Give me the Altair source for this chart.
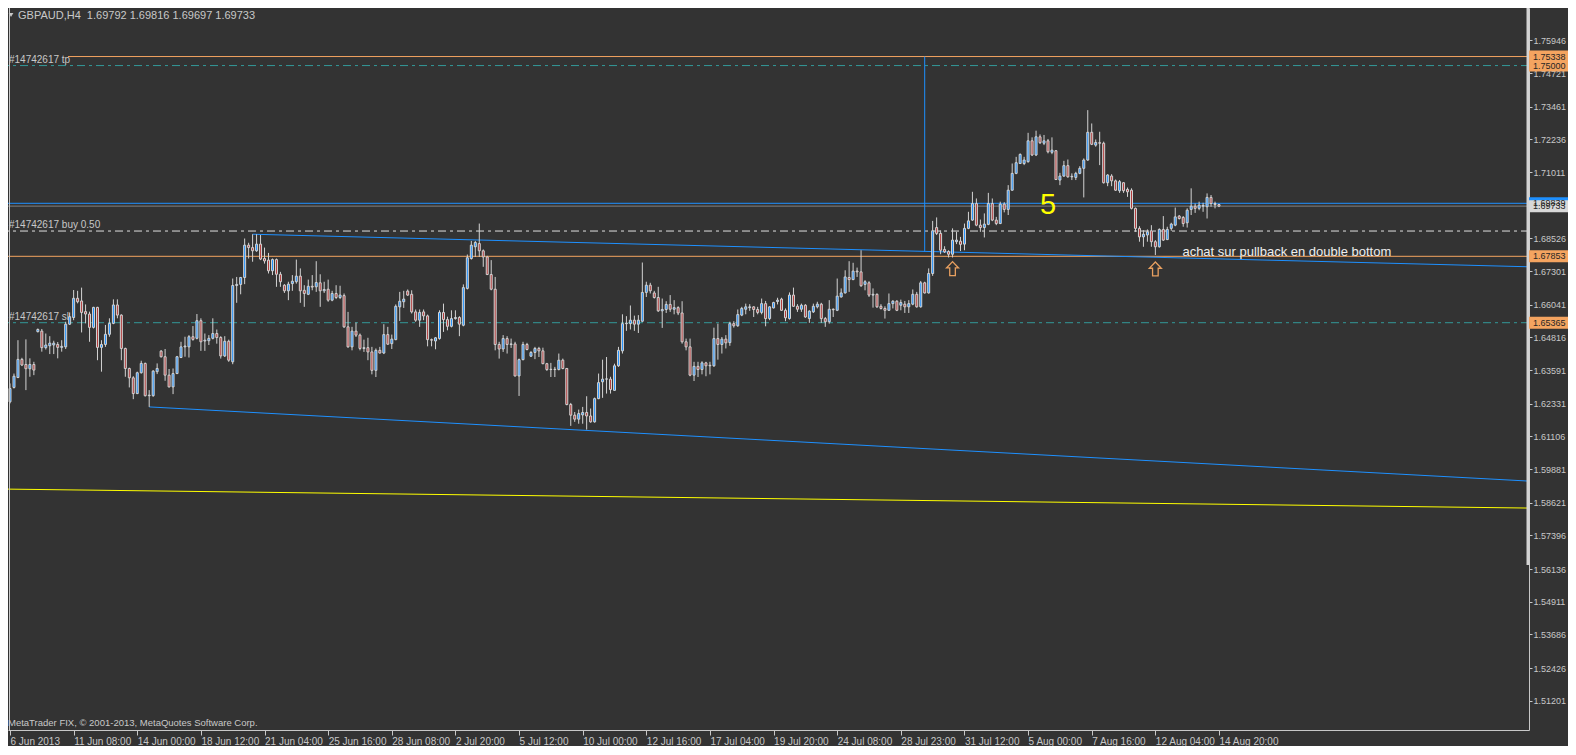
import altair as alt
import pandas as pd

# ---------------- data (GBPAUD H4) ----------------
opens = [
    1.6240,1.6294,1.6331,1.6399,1.6380,1.6364,1.6380,1.6503,1.6505,1.6443,
    1.6450,1.6453,1.6455,1.6444,1.6446,1.6531,1.6556,1.6628,1.6618,1.6578,
    1.6569,1.6519,1.6594,1.6444,1.6455,1.6493,1.6534,1.6603,1.6565,1.6440,
    1.6365,1.6330,1.6271,1.6349,1.6384,1.6263,1.6263,1.6353,1.6430,1.6409,
    1.6340,1.6296,1.6346,1.6406,1.6446,1.6446,1.6484,1.6478,1.6544,1.6468,
    1.6469,1.6478,1.6496,1.6481,1.6412,1.6467,1.6390,1.6676,1.6680,1.6706,
    1.6827,1.6818,1.6806,1.6831,1.6777,1.6771,1.6731,1.6773,1.6718,1.6677,
    1.6656,1.6683,1.6690,1.6711,1.6658,1.6643,1.6673,1.6671,1.6686,1.6656,
    1.6662,1.6621,1.6646,1.6631,1.6638,1.6521,1.6446,1.6505,1.6490,1.6440,
    1.6443,1.6427,1.6358,1.6433,1.6423,1.6492,1.6458,1.6473,1.6596,1.6615,
    1.6655,1.6643,1.6577,1.6546,1.6577,1.6562,1.6473,1.6468,1.6477,1.6575,
    1.6548,1.6523,1.6552,1.6556,1.6527,1.6665,1.6777,1.6821,1.6833,1.6806,
    1.6783,1.6717,1.6662,1.6455,1.6438,1.6477,1.6455,1.6457,1.6337,1.6398,
    1.6455,1.6411,1.6425,1.6440,1.6431,1.6383,1.6361,1.6362,1.6361,1.6396,
    1.6365,1.6230,1.6190,1.6175,1.6191,1.6200,1.6187,1.6165,1.6252,1.6315,
    1.6325,1.6325,1.6283,1.6375,1.6431,1.6533,1.6533,1.6546,1.6531,1.6542,
    1.6650,1.6677,1.6648,1.6631,1.6581,1.6586,1.6605,1.6587,1.6593,1.6573,
    1.6465,1.6446,1.6340,1.6373,1.6361,1.6386,1.6375,1.6375,1.6477,1.6455,
    1.6475,1.6462,1.6533,1.6525,1.6565,1.6587,1.6593,1.6596,1.6586,1.6575,
    1.6608,1.6552,1.6592,1.6616,1.6625,1.6583,1.6552,1.6640,1.6598,1.6587,
    1.6602,1.6552,1.6577,1.6596,1.6606,1.6552,1.6540,1.6587,1.6583,1.6633,
    1.6648,1.6706,1.6698,1.6730,1.6727,1.6680,1.6686,1.6640,1.6643,1.6598,
    1.6590,1.6583,1.6608,1.6617,1.6602,1.6606,1.6596,1.6606,1.6643,1.6596,
    1.6686,1.6648,1.6721,1.6893,1.6871,1.6811,1.6803,1.6793,1.6840,1.6842,
    1.6831,1.6890,1.6921,1.6983,1.6902,1.6893,1.6905,1.6983,1.6921,1.6908,
    1.6981,1.6961,1.7033,1.7096,1.7133,1.7133,1.7140,1.7218,1.7165,1.7233,
    1.7209,1.7218,1.7175,1.7181,1.7071,1.7086,1.7125,1.7083,1.7081,1.7096,
    1.7115,1.7146,1.7250,1.7202,1.7211,1.7209,1.7061,1.7086,1.7068,1.7031,
    1.7061,1.7036,1.7033,1.6965,1.6890,1.6858,1.6865,1.6881,1.6840,1.6821,
    1.6886,1.6848,1.6890,1.6902,1.6936,1.6931,1.6911,1.6961,1.6973,1.6965,
    1.6973,1.6971,1.7006,1.6983,1.69792,
]
highs = [
    1.6309,1.6346,1.6471,1.6405,1.6474,1.6403,1.6390,1.6515,1.6513,1.6496,
    1.6486,1.6469,1.6464,1.6471,1.6540,1.6575,1.6659,1.6656,1.6668,1.6605,
    1.6578,1.6596,1.6596,1.6471,1.6528,1.6553,1.6624,1.6624,1.6568,1.6443,
    1.6368,1.6336,1.6353,1.6394,1.6387,1.6284,1.6359,1.6384,1.6434,1.6438,
    1.6363,1.6365,1.6412,1.6465,1.6484,1.6490,1.6524,1.6569,1.6553,1.6496,
    1.6490,1.6553,1.6511,1.6486,1.6486,1.6473,1.6702,1.6708,1.6708,1.6852,
    1.6836,1.6868,1.6868,1.6865,1.6818,1.6798,1.6777,1.6777,1.6727,1.6681,
    1.6690,1.6715,1.6773,1.6740,1.6677,1.6698,1.6715,1.6767,1.6718,1.6690,
    1.6698,1.6656,1.6677,1.6675,1.6646,1.6577,1.6521,1.6537,1.6496,1.6473,
    1.6480,1.6446,1.6440,1.6446,1.6531,1.6521,1.6492,1.6605,1.6652,1.6656,
    1.6661,1.6658,1.6586,1.6586,1.6586,1.6567,1.6477,1.6483,1.6583,1.6608,
    1.6559,1.6583,1.6583,1.6561,1.6680,1.6792,1.6843,1.6843,1.6908,1.6811,
    1.6787,1.6771,1.6708,1.6465,1.6490,1.6486,1.6477,1.6465,1.6402,1.6465,
    1.6461,1.6430,1.6446,1.6446,1.6443,1.6386,1.6386,1.6371,1.6421,1.6402,
    1.6367,1.6236,1.6202,1.6211,1.6221,1.6261,1.6215,1.6256,1.6346,1.6398,
    1.6408,1.6334,1.6383,1.6446,1.6568,1.6561,1.6601,1.6563,1.6565,1.6762,
    1.6690,1.6686,1.6656,1.6671,1.6627,1.6617,1.6640,1.6621,1.6598,1.6617,
    1.6477,1.6477,1.6390,1.6390,1.6392,1.6390,1.6390,1.6518,1.6533,1.6483,
    1.6490,1.6540,1.6542,1.6586,1.6596,1.6608,1.6606,1.6598,1.6596,1.6627,
    1.6618,1.6598,1.6615,1.6630,1.6630,1.6590,1.6650,1.6668,1.6606,1.6608,
    1.6606,1.6583,1.6608,1.6615,1.6611,1.6558,1.6621,1.6590,1.6702,1.6665,
    1.6733,1.6767,1.6761,1.6743,1.6808,1.6696,1.6692,1.6665,1.6646,1.6606,
    1.6598,1.6646,1.6621,1.6621,1.6623,1.6618,1.6621,1.6661,1.6652,1.6693,
    1.6690,1.6740,1.6918,1.6931,1.6883,1.6823,1.6808,1.6890,1.6877,1.6858,
    1.6908,1.6952,1.7027,1.7002,1.6923,1.6946,1.7023,1.7002,1.6933,1.6990,
    1.6988,1.7052,1.7133,1.7158,1.7171,1.7158,1.7248,1.7231,1.7256,1.7242,
    1.7240,1.7225,1.7231,1.7183,1.7098,1.7143,1.7148,1.7096,1.7102,1.7123,
    1.7152,1.7333,1.7283,1.7223,1.7252,1.7215,1.7093,1.7093,1.7073,1.7071,
    1.7063,1.7043,1.7040,1.6968,1.6898,1.6883,1.6886,1.6902,1.6846,1.6890,
    1.6936,1.6896,1.6911,1.6968,1.6940,1.6936,1.6965,1.7040,1.6983,1.6990,
    1.6986,1.7021,1.7015,1.6990,1.69816,
]
lows = [
    1.6234,1.6290,1.6329,1.6374,1.6284,1.6334,1.6340,1.6500,1.6428,1.6436,
    1.6419,1.6419,1.6403,1.6428,1.6438,1.6528,1.6546,1.6609,1.6500,1.6534,
    1.6465,1.6515,1.6396,1.6353,1.6446,1.6484,1.6531,1.6553,1.6396,1.6334,
    1.6294,1.6250,1.6269,1.6346,1.6260,1.6221,1.6259,1.6344,1.6406,1.6319,
    1.6294,1.6269,1.6344,1.6404,1.6409,1.6406,1.6469,1.6474,1.6431,1.6431,
    1.6453,1.6474,1.6458,1.6402,1.6408,1.6390,1.6381,1.6611,1.6643,1.6681,
    1.6777,1.6765,1.6802,1.6771,1.6758,1.6721,1.6715,1.6671,1.6671,1.6648,
    1.6621,1.6656,1.6683,1.6611,1.6596,1.6640,1.6658,1.6652,1.6596,1.6648,
    1.6615,1.6617,1.6625,1.6625,1.6517,1.6443,1.6433,1.6483,1.6433,1.6427,
    1.6396,1.6343,1.6333,1.6421,1.6419,1.6454,1.6438,1.6471,1.6543,1.6592,
    1.6637,1.6571,1.6540,1.6521,1.6546,1.6448,1.6448,1.6437,1.6473,1.6502,
    1.6508,1.6519,1.6548,1.6486,1.6523,1.6661,1.6773,1.6783,1.6783,1.6746,
    1.6715,1.6658,1.6433,1.6402,1.6427,1.6421,1.6442,1.6335,1.6262,1.6396,
    1.6433,1.6408,1.6400,1.6408,1.6381,1.6356,1.6333,1.6333,1.6358,1.6362,
    1.6227,1.6150,1.6165,1.6158,1.6158,1.6136,1.6162,1.6162,1.6250,1.6255,
    1.6271,1.6271,1.6281,1.6371,1.6421,1.6506,1.6511,1.6506,1.6498,1.6540,
    1.6633,1.6646,1.6627,1.6577,1.6517,1.6573,1.6577,1.6568,1.6565,1.6458,
    1.6433,1.6336,1.6318,1.6333,1.6343,1.6336,1.6343,1.6371,1.6398,1.6421,
    1.6440,1.6450,1.6518,1.6521,1.6561,1.6568,1.6581,1.6558,1.6568,1.6568,
    1.6523,1.6546,1.6590,1.6605,1.6581,1.6542,1.6548,1.6596,1.6577,1.6577,
    1.6555,1.6536,1.6573,1.6590,1.6536,1.6521,1.6533,1.6558,1.6580,1.6631,
    1.6646,1.6652,1.6696,1.6708,1.6671,1.6658,1.6633,1.6593,1.6592,1.6586,
    1.6552,1.6581,1.6590,1.6580,1.6583,1.6573,1.6573,1.6602,1.6593,1.6593,
    1.6646,1.6646,1.6712,1.6865,1.6793,1.6798,1.6781,1.6781,1.6831,1.6805,
    1.6808,1.6887,1.6918,1.6898,1.6877,1.6856,1.6902,1.6917,1.6902,1.6906,
    1.6950,1.6940,1.7031,1.7093,1.7131,1.7127,1.7136,1.7161,1.7161,1.7206,
    1.7202,1.7171,1.7168,1.7071,1.7052,1.7083,1.7080,1.7071,1.7071,1.7093,
    1.7006,1.7143,1.7202,1.7196,1.7127,1.7058,1.7048,1.7048,1.7030,1.7023,
    1.7023,1.7008,1.6961,1.6877,1.6840,1.6821,1.6840,1.6821,1.6790,1.6818,
    1.6843,1.6846,1.6881,1.6898,1.6923,1.6896,1.6893,1.6940,1.6948,1.6958,
    1.6952,1.6927,1.6971,1.6965,1.69697,
]
closes = [
    1.6290,1.6336,1.6399,1.6378,1.6364,1.6380,1.6359,1.6511,1.6443,1.6453,
    1.6460,1.6460,1.6444,1.6448,1.6531,1.6559,1.6628,1.6615,1.6575,1.6569,
    1.6519,1.6594,1.6444,1.6455,1.6493,1.6534,1.6603,1.6565,1.6440,1.6365,
    1.6330,1.6271,1.6349,1.6384,1.6263,1.6265,1.6355,1.6365,1.6409,1.6340,
    1.6296,1.6346,1.6409,1.6446,1.6449,1.6484,1.6474,1.6544,1.6465,1.6471,
    1.6478,1.6496,1.6481,1.6412,1.6467,1.6396,1.6676,1.6680,1.6706,1.6827,
    1.6818,1.6806,1.6831,1.6775,1.6768,1.6731,1.6773,1.6718,1.6690,1.6656,
    1.6681,1.6692,1.6711,1.6656,1.6646,1.6673,1.6670,1.6687,1.6656,1.6661,
    1.6621,1.6646,1.6631,1.6640,1.6521,1.6446,1.6505,1.6490,1.6440,1.6443,
    1.6427,1.6358,1.6433,1.6423,1.6492,1.6456,1.6475,1.6598,1.6617,1.6625,
    1.6640,1.6577,1.6546,1.6575,1.6562,1.6473,1.6471,1.6480,1.6575,1.6548,
    1.6523,1.6552,1.6556,1.6531,1.6668,1.6780,1.6827,1.6837,1.6806,1.6783,
    1.6717,1.6662,1.6455,1.6438,1.6477,1.6455,1.6457,1.6337,1.6398,1.6455,
    1.6436,1.6425,1.6440,1.6431,1.6383,1.6361,1.6362,1.6361,1.6396,1.6365,
    1.6230,1.6190,1.6175,1.6196,1.6200,1.6187,1.6165,1.6252,1.6312,1.6325,
    1.6326,1.6286,1.6375,1.6433,1.6533,1.6535,1.6546,1.6531,1.6546,1.6650,
    1.6677,1.6656,1.6631,1.6581,1.6586,1.6605,1.6587,1.6593,1.6573,1.6465,
    1.6446,1.6340,1.6373,1.6361,1.6386,1.6375,1.6377,1.6477,1.6455,1.6475,
    1.6461,1.6533,1.6525,1.6567,1.6590,1.6596,1.6596,1.6586,1.6575,1.6608,
    1.6552,1.6596,1.6612,1.6621,1.6583,1.6555,1.6640,1.6598,1.6587,1.6602,
    1.6558,1.6580,1.6598,1.6606,1.6552,1.6540,1.6587,1.6585,1.6636,1.6648,
    1.6708,1.6698,1.6730,1.6727,1.6675,1.6690,1.6640,1.6643,1.6596,1.6590,
    1.6583,1.6608,1.6617,1.6583,1.6612,1.6596,1.6608,1.6643,1.6596,1.6686,
    1.6648,1.6721,1.6881,1.6871,1.6808,1.6802,1.6793,1.6846,1.6846,1.6830,
    1.6890,1.6918,1.6983,1.6902,1.6893,1.6906,1.6983,1.6921,1.6908,1.6981,
    1.6961,1.7033,1.7096,1.7136,1.7167,1.7146,1.7218,1.7165,1.7233,1.7211,
    1.7218,1.7177,1.7183,1.7073,1.7086,1.7125,1.7083,1.7085,1.7096,1.7115,
    1.7146,1.7250,1.7205,1.7212,1.7209,1.7061,1.7090,1.7068,1.7033,1.7065,
    1.7031,1.7027,1.6965,1.6890,1.6858,1.6868,1.6877,1.6840,1.6821,1.6886,
    1.6846,1.6886,1.6906,1.6933,1.6927,1.6908,1.6958,1.6973,1.6965,1.6977,
    1.6976,1.7006,1.6983,1.6979,1.69733,
]

time_label_bars = [0, 16, 32, 48, 64, 80, 96, 112, 128, 144,
                   160, 176, 192, 208, 224, 240, 256, 272, 288, 304]
time_labels = ["6 Jun 2013", "11 Jun 08:00", "14 Jun 00:00", "18 Jun 12:00",
               "21 Jun 04:00", "25 Jun 16:00", "28 Jun 08:00", "2 Jul 20:00",
               "5 Jul 12:00", "10 Jul 00:00", "12 Jul 16:00", "17 Jul 04:00",
               "19 Jul 20:00", "24 Jul 08:00", "28 Jul 23:00", "31 Jul 12:00",
               "5 Aug 00:00", "7 Aug 16:00", "12 Aug 04:00", "14 Aug 20:00"]
price_ticks = [1.77206, 1.75946, 1.74721, 1.73461, 1.72236, 1.71011, 1.68526,
               1.67301, 1.66041, 1.64816, 1.63591, 1.62331, 1.61106, 1.59881,
               1.58621, 1.57396, 1.56136, 1.54911, 1.53686, 1.52426, 1.51201,
               1.49976]

# price levels / objects
tp_user_line = 1.75338
tp_level = 1.75000
blue_level = 1.69839
bid_level = 1.69733
buy_level = 1.68800
orange_level = 1.67853
sl_level = 1.65365

upper_tl_bars = [61, 381.95]
upper_tl_prices = [1.6868, 1.6746]
lower_tl_bars = [35, 381.95]
lower_tl_prices = [1.6221, 1.5943]
yellow_bars = [-0.5, 381.95]
yellow_prices = [1.5913, 1.5842]
vline_bar = 230
vline_prices = [1.75338, 1.6803]
arrow_bars = [237, 288]
arrow_prices = [1.6739, 1.6738]

axis_tags_price = [1.75338, 1.75000, 1.69839, 1.69733, 1.67853, 1.65365]
axis_tags_text = ["1.75338", "1.75000", "1.69839", "1.69733", "1.67853", "1.65365"]
axis_tags_bg = ["#F4A460", "#F4A460", "#1E90FF", "#D8D8D8", "#F4A460", "#F4A460"]

# ---------------- styling ----------------
W, H = 1521, 722
X_DOMAIN = [-0.503, 381.95]
Y_DOMAIN = [1.50104, 1.77157]
BG = "#333333"
FG = "#C8C8C8"
BULL = "#1E90FF"
BEAR = "#B23A3A"
OUTLINE = "#D3D3D3"
ORANGE = "#F4A460"
TEAL = "#339999"
BLUE = "#1E90FF"
FONT = "Liberation Sans"
DASHDOT = [8, 4, 3, 4]

xs = alt.Scale(domain=X_DOMAIN, nice=False, zero=False, padding=0)
ys = alt.Scale(domain=Y_DOMAIN, nice=False, zero=False, padding=0)

label_array = "[" + ",".join("'" + t + "'" for t in time_labels) + "]"
bar_array = "[" + ",".join(str(b) for b in time_label_bars) + "]"
x_axis = alt.Axis(values=time_label_bars, labelExpr=f"{label_array}[indexof({bar_array}, datum.value)]",
                  orient="bottom", grid=False, title=None, domainColor=FG, tickColor=FG,
                  labelColor=FG, tickSize=5, labelAlign="left", labelBaseline="top",
                  labelPadding=1, labelFont=FONT, labelFontSize=10, labelOverlap=False,
                  labelFlush=False)
y_axis = alt.Axis(values=price_ticks, format=".5f", orient="right", grid=False, title=None,
                  domainColor=FG, tickColor=FG, labelColor=FG, tickSize=3, labelPadding=1,
                  labelAlign="left", labelFont=FONT, labelFontSize=9, labelOverlap=False,
                  labelFlush=False)


def XQ(field):
    return alt.X(f"{field}:Q", scale=xs, axis=x_axis)


def YQ(field):
    return alt.Y(f"{field}:Q", scale=ys, axis=y_axis)


bars = pd.DataFrame({"bar": list(range(len(opens))), "open": opens,
                     "high": highs, "low": lows, "close": closes})

# horizontal lines
solid_df = pd.DataFrame({"price": [blue_level, bid_level, orange_level],
                         "col": [BLUE, "#808080", ORANGE]})
solid_lines = alt.Chart(solid_df).mark_rule(strokeWidth=1).encode(
    y=YQ("price"), color=alt.Color("col:N", scale=None))

tp_df = pd.DataFrame({"price": [tp_user_line]})
tp_line = alt.Chart(tp_df).mark_rule(strokeWidth=1, color=ORANGE).encode(
    y=YQ("price"), x=alt.value(60), x2=alt.value(W))

teal_df = pd.DataFrame({"price": [tp_level, sl_level]})
teal_lines = alt.Chart(teal_df).mark_rule(strokeWidth=1, color=TEAL, strokeDash=DASHDOT).encode(
    y=YQ("price"))

buy_df = pd.DataFrame({"price": [buy_level]})
buy_line = alt.Chart(buy_df).mark_rule(strokeWidth=1, color="#E0E0E0", strokeDash=DASHDOT).encode(
    y=YQ("price"))

# trend lines
tl_df = pd.DataFrame({
    "bar": upper_tl_bars + lower_tl_bars + yellow_bars,
    "price": upper_tl_prices + lower_tl_prices + yellow_prices,
    "line": ["up", "up", "low", "low", "yel", "yel"],
    "col": [BLUE, BLUE, BLUE, BLUE, "#FFFF00", "#FFFF00"],
})
trendlines = alt.Chart(tl_df).mark_line(strokeWidth=1).encode(
    x=XQ("bar"), y=YQ("price"), detail="line:N", color=alt.Color("col:N", scale=None))

vdf = pd.DataFrame({"bar": [vline_bar], "p1": [vline_prices[0]], "p2": [vline_prices[1]]})
vline = alt.Chart(vdf).mark_rule(strokeWidth=1, color=BLUE).encode(
    x=XQ("bar"), y=YQ("p1"), y2="p2:Q")

# candles
wicks = alt.Chart(bars).mark_rule(color=OUTLINE, strokeWidth=1).encode(
    x=XQ("bar"), y=YQ("low"), y2="high:Q")
bodies = alt.Chart(bars).mark_bar(size=2, stroke=OUTLINE, strokeWidth=1).encode(
    x=XQ("bar"), y=YQ("open"), y2="close:Q",
    color=alt.condition("datum.close >= datum.open", alt.value(BULL), alt.value(BEAR)))

# left frame and thick price-scale segment
frame = alt.Chart(pd.DataFrame({"a": [0]})).mark_rule(color=FG, strokeWidth=1).encode(
    x=alt.value(1.5), y=alt.value(0), y2=alt.value(H))
thick_df = pd.DataFrame({"p1": [Y_DOMAIN[1]], "p2": [1.5629]})
thick = alt.Chart(thick_df).mark_rule(color="#D3D3D3", strokeWidth=3).encode(
    x=alt.value(W - 1), y=YQ("p1"), y2="p2:Q")

# order labels
order_df = pd.DataFrame({"price": [tp_level, buy_level, sl_level],
                         "txt": ["#14742617 tp", "#14742617 buy 0.50", "#14742617 sl"]})
order_text = alt.Chart(order_df).mark_text(align="left", baseline="bottom", dy=-1, font=FONT,
                                           fontSize=10, color=FG).encode(
    x=alt.value(1), y=YQ("price"), text="txt:N")

# annotations
five = alt.Chart(pd.DataFrame({"bar": [261], "price": [1.69776], "t": ["5"]})).mark_text(
    font=FONT, fontSize=29, color="#FFFF00", align="center", baseline="middle").encode(
    x=XQ("bar"), y=YQ("price"), text="t:N")
note = alt.Chart(pd.DataFrame({"bar": [294.8], "price": [1.6803],
                               "t": ["achat sur pullback en double bottom"]})).mark_text(
    font=FONT, fontSize=13, color="#EEEEEE", align="left", baseline="middle").encode(
    x=XQ("bar"), y=YQ("price"), text="t:N")
arrow_path = "M0,-1L0.86,-0.1L0.4,-0.1L0.4,1L-0.4,1L-0.4,-0.1L-0.86,-0.1Z"
arrows = alt.Chart(pd.DataFrame({"bar": arrow_bars, "price": arrow_prices})).mark_point(
    shape=arrow_path, size=196, filled=False, stroke="#E8A060", strokeWidth=1.3, opacity=1).encode(
    x=XQ("bar"), y=YQ("price"))

header_tri = alt.Chart(pd.DataFrame({"a": [0]})).mark_point(
    shape="triangle-down", size=22, filled=True, color=FG, opacity=1).encode(
    x=alt.value(3), y=alt.value(7))
header = alt.Chart(pd.DataFrame({"t": ["GBPAUD,H4\u00a0\u00a01.69792 1.69816 1.69697 1.69733"]})).mark_text(
    font=FONT, fontSize=11, color=FG, align="left", baseline="middle").encode(
    x=alt.value(10), y=alt.value(8), text="t:N")
copyright_ = alt.Chart(pd.DataFrame({"t": ["MetaTrader FIX, \u00a9 2001-2013, MetaQuotes Software Corp."]})).mark_text(
    font=FONT, fontSize=9.5, color=FG, align="left", baseline="middle").encode(
    x=alt.value(0), y=alt.value(H - 7), text="t:N")

# price tags on the right scale
tags_df = pd.DataFrame({"price": axis_tags_price, "txt": axis_tags_text, "bg": axis_tags_bg,
                        "order": list(range(len(axis_tags_price)))})
tag_rects = alt.Chart(tags_df).mark_rect(yOffset=-6, y2Offset=6).encode(
    x=alt.value(W), x2=alt.value(W + 39),
    y=YQ("price"), y2="price:Q",
    color=alt.Color("bg:N", scale=None), order="order:Q")
tag_text = alt.Chart(tags_df).mark_text(align="left", baseline="middle", font=FONT, fontSize=9,
                                        color="#262626").encode(
    x=alt.value(W + 4), y=YQ("price"), text="txt:N", order="order:Q")

chart = alt.layer(
    solid_lines, tp_line, teal_lines, buy_line, trendlines, vline,
    wicks, bodies, frame, thick, order_text, five, note, arrows,
    header_tri, header, copyright_, tag_rects, tag_text,
).properties(
    width=W, height=H,
    autosize=alt.AutoSizeParams(type="none"),
    padding={"left": 0, "top": 0, "right": 39, "bottom": 16},
    background=BG,
).configure_view(stroke=None, fill=BG)

chart.save("out.html", embed_options={"renderer": "svg", "actions": False})
